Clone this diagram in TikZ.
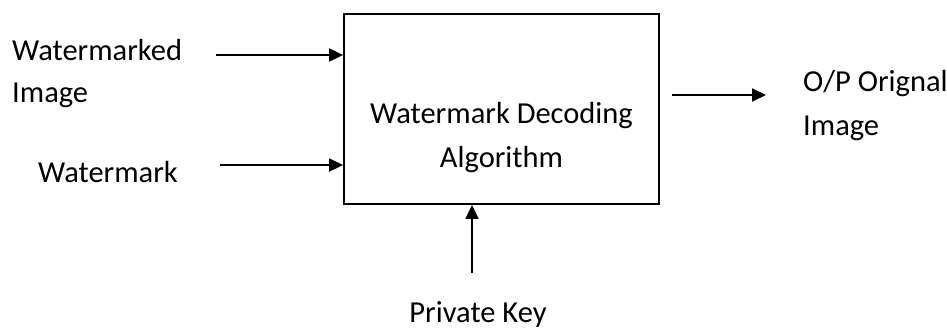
\documentclass[tikz,border=0pt]{standalone}
\usepackage{fontspec}
\setmainfont{Carlito}
\usetikzlibrary{arrows.meta}
\begin{document}
\begin{tikzpicture}[x=1pt,y=-1pt,
  lbl/.style={font=\fontsize{30.5}{30.5}\selectfont, inner sep=0pt},
  arr/.style={line width=1.8pt, -{Triangle[length=14pt,width=13pt]}},
  boxst/.style={draw, line width=1.8pt, minimum width=315pt, minimum height=190pt, inner sep=0pt}]
\useasboundingbox (0,0) rectangle (947,329);
\node[boxst] (box) at (501.5,109) {};
\node[lbl, anchor=base] (t1) at (501.5,123) {Watermark Decoding};
\node[lbl, anchor=base] (t2) at (501.5,167) {Algorithm};
\node[lbl, anchor=base west] (wi1) at (12,60) {Watermarked};
\node[lbl, anchor=base west] (wi2) at (12,102) {Image};
\node[lbl, anchor=base west] (wm) at (38,182) {Watermark};
\node[lbl, anchor=base west] (op1) at (803,92) {O/P Orignal};
\node[lbl, anchor=base west] (op2) at (803,135) {Image};
\node[lbl, anchor=base] (pk) at (478,322) {Private Key};
\coordinate (a1) at (216,55);
\coordinate (a2) at (220,165);
\coordinate (a3) at (472,273);
\coordinate (o1) at (672,95);
\coordinate (o2) at (766,95);
\draw[arr] (a1) -- (box.west |- a1);
\draw[arr] (a2) -- (box.west |- a2);
\draw[arr] (a3) -- (box.south -| a3);
\draw[arr] (o1) -- (o2);
\end{tikzpicture}
\end{document}
